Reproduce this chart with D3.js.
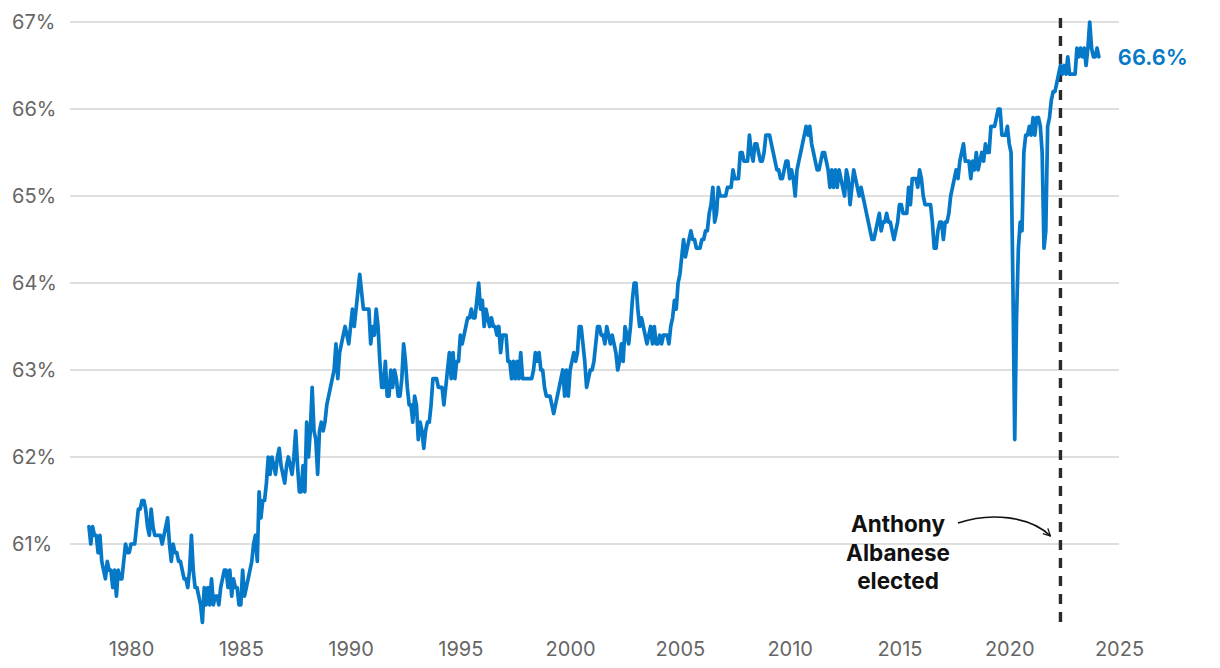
<!DOCTYPE html>
<html>
<head>
<meta charset="utf-8">
<script src="https://cdn.jsdelivr.net/npm/d3@7"></script>
<style>
  html, body { margin: 0; padding: 0; background: #ffffff; }
  svg { display: block; font-family: Inter, "Noto Sans", sans-serif; }
</style>
</head>
<body>
<svg id="chart" width="1220" height="668"></svg>
<script>
// Australian labour force participation rate (%), monthly, Feb 1978 – Feb 2024
const startYear = 1978;
const startMonth = 1; // February (0-based)
const participation = [
  /*1978*/ 61.2,61.0,61.2,61.1,61.1,60.9,61.1,60.8,60.7,60.6,60.8,
  /*1979*/ 60.7,60.7,60.5,60.7,60.4,60.7,60.6,60.6,60.8,61.0,60.9,60.9,
  /*1980*/ 61.0,61.0,61.0,61.2,61.4,61.4,61.5,61.5,61.4,61.2,61.1,61.4,
  /*1981*/ 61.2,61.1,61.1,61.1,61.1,61.0,61.1,61.2,61.3,61.0,60.8,61.0,
  /*1982*/ 60.9,60.9,60.8,60.8,60.7,60.6,60.6,60.5,60.7,61.1,60.7,60.5,
  /*1983*/ 60.5,60.4,60.3,60.1,60.5,60.3,60.5,60.3,60.6,60.3,60.4,60.4,
  /*1984*/ 60.3,60.5,60.6,60.7,60.7,60.5,60.7,60.4,60.6,60.5,60.5,60.3,
  /*1985*/ 60.3,60.7,60.4,60.5,60.6,60.7,60.8,61.0,61.1,60.8,61.6,61.3,
  /*1986*/ 61.5,61.5,61.7,62.0,61.8,62.0,61.9,61.8,62.0,62.1,61.9,61.8,
  /*1987*/ 61.7,61.9,62.0,61.9,61.8,62.0,62.3,61.9,61.6,61.6,61.9,61.6,
  /*1988*/ 62.4,62.0,62.3,62.8,62.3,62.2,61.8,62.3,62.4,62.3,62.4,62.6,
  /*1989*/ 62.7,62.8,62.9,63.0,63.3,62.9,63.2,63.3,63.4,63.5,63.4,63.3,
  /*1990*/ 63.5,63.7,63.5,63.7,63.9,64.1,63.9,63.7,63.7,63.7,63.7,63.3,
  /*1991*/ 63.5,63.4,63.7,63.5,63.1,62.8,62.8,63.1,62.7,62.7,63.0,62.8,
  /*1992*/ 63.0,62.9,62.7,62.7,62.9,63.3,63.1,62.8,62.6,62.6,62.4,62.7,
  /*1993*/ 62.6,62.2,62.4,62.3,62.1,62.3,62.4,62.4,62.6,62.9,62.9,62.9,
  /*1994*/ 62.8,62.8,62.8,62.6,62.8,63.0,63.2,62.9,63.2,62.9,63.1,63.1,
  /*1995*/ 63.4,63.3,63.4,63.5,63.6,63.6,63.7,63.6,63.6,63.8,64.0,63.7,
  /*1996*/ 63.8,63.5,63.7,63.6,63.5,63.6,63.5,63.5,63.4,63.5,63.2,63.4,
  /*1997*/ 63.4,63.4,63.1,63.1,62.9,63.1,62.9,63.1,62.9,63.2,62.9,62.9,
  /*1998*/ 62.9,62.9,62.9,62.9,63.0,63.2,63.1,63.2,63.0,63.0,62.8,62.7,
  /*1999*/ 62.7,62.7,62.6,62.5,62.6,62.7,62.8,62.9,63.0,62.7,63.0,62.7,
  /*2000*/ 63.0,63.1,63.2,63.1,63.2,63.5,63.5,63.3,63.1,62.8,62.9,63.0,
  /*2001*/ 63.0,63.1,63.3,63.5,63.5,63.4,63.4,63.3,63.5,63.4,63.3,63.4,
  /*2002*/ 63.3,63.2,63.0,63.1,63.3,63.1,63.5,63.4,63.3,63.5,63.8,64.0,
  /*2003*/ 64.0,63.7,63.5,63.6,63.5,63.4,63.3,63.4,63.5,63.3,63.5,63.3,
  /*2004*/ 63.3,63.4,63.3,63.4,63.4,63.4,63.3,63.5,63.6,63.8,63.7,64.0,
  /*2005*/ 64.1,64.3,64.5,64.3,64.4,64.5,64.6,64.5,64.5,64.4,64.4,64.4,
  /*2006*/ 64.5,64.5,64.6,64.6,64.8,64.9,65.1,64.7,64.8,65.1,65.0,65.0,
  /*2007*/ 65.0,65.0,65.1,65.1,65.1,65.3,65.2,65.2,65.2,65.5,65.5,65.4,
  /*2008*/ 65.4,65.4,65.7,65.5,65.4,65.6,65.6,65.5,65.4,65.4,65.5,65.7,
  /*2009*/ 65.7,65.7,65.6,65.5,65.4,65.3,65.3,65.2,65.2,65.3,65.4,65.4,
  /*2010*/ 65.2,65.3,65.2,65.0,65.3,65.4,65.5,65.6,65.7,65.8,65.7,65.8,
  /*2011*/ 65.6,65.5,65.4,65.3,65.3,65.4,65.5,65.5,65.4,65.3,65.1,65.3,
  /*2012*/ 65.1,65.3,65.1,65.3,65.2,65.1,65.0,65.3,65.2,64.9,65.1,65.3,
  /*2013*/ 65.2,65.1,65.0,65.1,65.0,64.9,64.8,64.7,64.6,64.5,64.5,64.6,
  /*2014*/ 64.7,64.8,64.6,64.7,64.7,64.8,64.7,64.7,64.6,64.5,64.6,64.7,
  /*2015*/ 64.9,64.9,64.8,64.8,64.8,65.1,64.9,65.2,65.2,65.2,65.1,65.3,
  /*2016*/ 65.2,65.0,64.9,64.9,64.9,64.9,64.7,64.4,64.4,64.6,64.7,64.7,
  /*2017*/ 64.5,64.7,64.7,64.8,65.0,65.1,65.2,65.3,65.2,65.4,65.5,65.6,
  /*2018*/ 65.4,65.4,65.4,65.2,65.4,65.3,65.5,65.3,65.4,65.5,65.4,65.6,
  /*2019*/ 65.5,65.5,65.8,65.8,65.8,65.9,66.0,66.0,65.7,65.7,65.7,65.8,
  /*2020*/ 65.6,65.5,64.0,62.2,63.6,64.4,64.7,64.6,65.5,65.7,65.7,65.8,
  /*2021*/ 65.7,65.9,65.7,65.9,65.9,65.8,65.5,64.4,64.6,65.8,65.9,66.1,
  /*2022*/ 66.2,66.2,66.3,66.4,66.5,66.4,66.5,66.4,66.6,66.4,66.4,66.4,
  /*2023*/ 66.4,66.7,66.6,66.7,66.6,66.7,66.5,66.7,67.0,66.7,66.6,66.6,
  /*2024*/ 66.7,66.6
];

const yTicks = [61, 62, 63, 64, 65, 66, 67];
const xTicks = [1980, 1985, 1990, 1995, 2000, 2005, 2010, 2015, 2020, 2025];
const electionDate = { year: 2022, month: 4 }; // May 2022
const annotationLines = ["Anthony", "Albanese", "elected"];
const endLabel = "66.6%";

const toDecimal = (y, m) => y + m / 12;
const series = participation.map((v, i) => {
  const m = startMonth + i;
  return { t: toDecimal(startYear + Math.floor(m / 12), m % 12), v };
});

const svg = d3.select("#chart");
const x = d3.scaleLinear().domain([1977.22, 2025]).range([70, 1119]);
const y = d3.scaleLinear().domain([61, 67]).range([544, 22]);

const blue = "#0578c8";
const grey = "#666666";

// gridlines
svg.append("g").selectAll("line").data(yTicks).join("line")
  .attr("x1", x(1977.22)).attr("x2", x(2025))
  .attr("y1", d => y(d)).attr("y2", d => y(d))
  .attr("stroke", "#d4d4d4").attr("stroke-width", 1.5);

// y labels
svg.append("g").selectAll("text").data(yTicks).join("text")
  .attr("x", 12).attr("y", d => y(d)).attr("dy", "0.36em")
  .attr("font-size", 20).attr("fill", grey)
  .text(d => d + "%");

// x axis labels
const xAxis = d3.axisBottom(x).tickValues(xTicks).tickFormat(d3.format("d")).tickSize(0).tickPadding(0);
const gx = svg.append("g").attr("transform", "translate(0,641)").call(xAxis);
gx.select(".domain").remove();
gx.selectAll("text").attr("font-size", 20).attr("fill", grey)
  .attr("font-family", "Inter, 'Noto Sans', sans-serif").attr("dy", "0.75em");

// election dashed line
const ex = x(toDecimal(electionDate.year, electionDate.month));
svg.append("line")
  .attr("x1", ex).attr("x2", ex).attr("y1", 18).attr("y2", 626)
  .attr("stroke", "#2a2a2a").attr("stroke-width", 3.4)
  .attr("stroke-dasharray", "10,8");

// data line
const line = d3.line().x(d => x(d.t)).y(d => y(d.v)).curve(d3.curveLinear);
svg.append("path").datum(series)
  .attr("d", line).attr("fill", "none")
  .attr("stroke", blue).attr("stroke-width", 3.7)
  .attr("stroke-linejoin", "round").attr("stroke-linecap", "round");

// end label
const last = series[series.length - 1];
svg.append("text")
  .attr("x", x(last.t) + 19).attr("y", y(66.6))
  .attr("dy", "0.36em").attr("font-size", 22).attr("font-weight", 600)
  .attr("fill", blue).text(endLabel);

// annotation text
const ann = svg.append("text").attr("text-anchor", "middle")
  .attr("font-size", 22.5).attr("font-weight", 700).attr("fill", "#111");
annotationLines.forEach((t, i) => {
  ann.append("tspan").attr("x", 898).attr("y", 532 + i * 28.5).text(t);
});

// arrow
const defs = svg.append("defs");
defs.append("marker").attr("id", "arrow")
  .attr("viewBox", "0 0 10 10").attr("refX", 9).attr("refY", 5)
  .attr("markerWidth", 9).attr("markerHeight", 9).attr("orient", "auto")
  .attr("markerUnits", "userSpaceOnUse")
  .append("path").attr("d", "M1,1 L9,5 L1,9").attr("fill", "none")
  .attr("stroke", "#111").attr("stroke-width", 1.4);
svg.append("path")
  .attr("d", `M958,523 C990,512 1030,516 ${ex - 10},536`)
  .attr("fill", "none").attr("stroke", "#111").attr("stroke-width", 1.6)
  .attr("marker-end", "url(#arrow)");
</script>
</body>
</html>
